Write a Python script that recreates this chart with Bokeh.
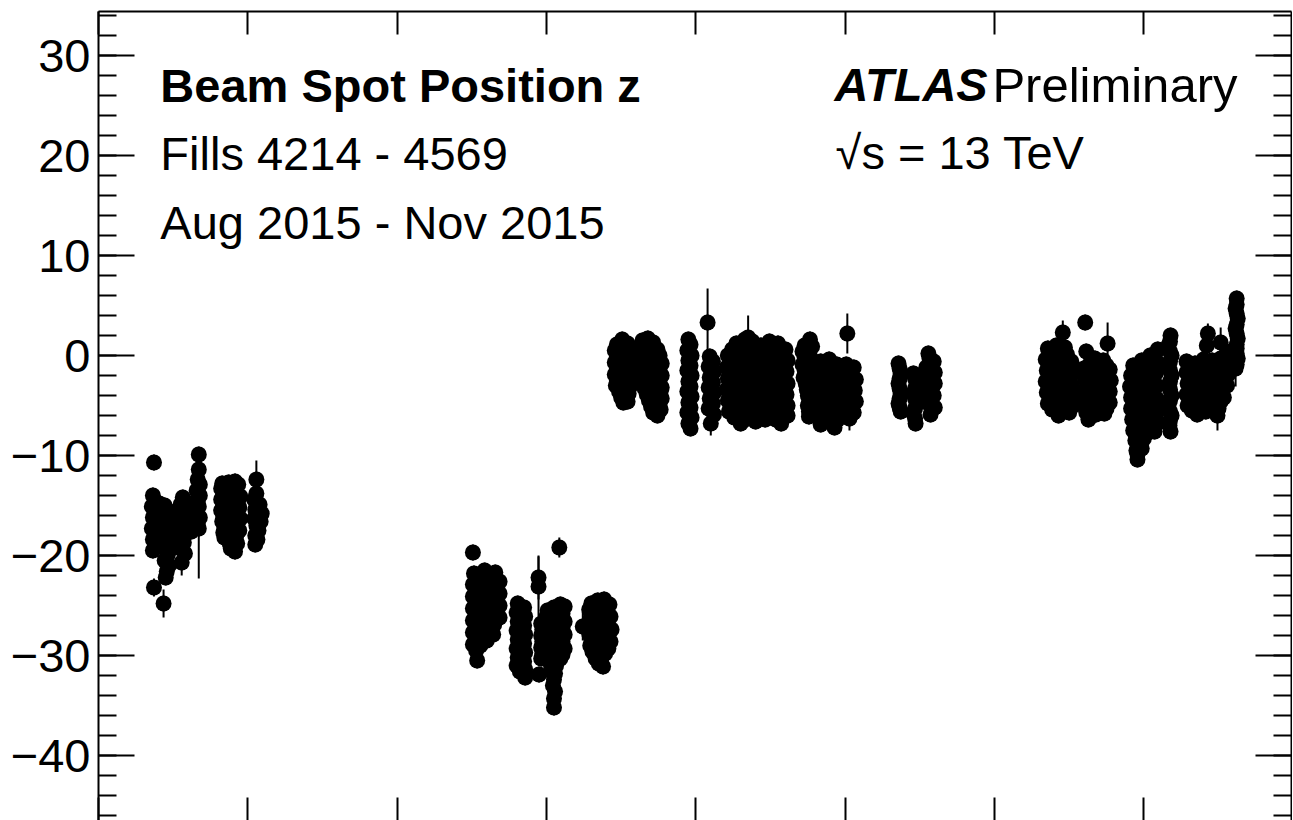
from bokeh.plotting import figure
from bokeh.models import (Range1d, LinearAxis, SingleIntervalTicker, Label, ColumnDataSource,
                          CustomLabelingPolicy)
from bokeh.embed import file_html
from bokeh.resources import INLINE

# x: days since 1 Aug 2015, z: beam spot z position [mm]
aug_day = [5.2,
           5.1, 5.3, 5.0, 5.4, 5.1, 5.3, 5.0, 5.4, 5.1, 5.3, 5.1,
           5.2,
           5.7, 5.8, 5.7, 5.8, 5.7,
           6.2, 6.5, 6.1, 6.6, 6.3, 6.5, 6.2, 6.6, 6.3, 6.5, 6.2, 6.6, 6.4, 6.3,
           6.1,
           7.1, 7.2, 7.1,
           7.9, 7.7, 8.1, 7.6, 8.0, 7.7, 8.1, 7.6, 8.0, 7.7, 8.1, 7.8,
           8.7, 8.8, 8.7,
           9.4, 9.4, 9.3, 9.5, 9.2, 9.5, 9.3, 9.4, 9.2, 9.5, 9.3, 9.4,
           11.6, 11.5, 11.7, 11.5, 11.7, 11.5, 11.7, 11.6, 11.8, 11.7, 11.8,
           12.2, 12.3, 12.2, 12.3, 12.2, 12.3, 12.2, 12.3, 12.4,
           12.8, 13.1, 12.9, 13.3, 12.8, 13.2, 12.9, 13.3, 12.8, 13.2, 12.9, 13.0, 12.8,
           14.8, 14.8, 14.6, 15.1, 14.7, 15.3, 14.6, 15.2, 14.8, 15.0, 14.7, 14.9, 14.7]
aug_z = [-10.7,
         -14.0, -14.6, -15.1, -15.6, -16.2, -16.7, -17.3, -17.8, -18.4, -18.9, -19.5,
         -23.2,
         -14.8, -15.9, -17.0, -18.1, -19.0,
         -15.0, -15.5, -16.1, -16.6, -17.2, -17.7, -18.3, -18.8, -19.3, -19.9, -20.5, -21.0, -21.6, -22.2,
         -24.8,
         -16.2, -17.8, -19.2,
         -14.2, -14.9, -15.4, -16.0, -16.5, -17.1, -17.6, -18.2, -18.7, -19.3, -19.8, -20.7,
         -14.8, -16.3, -17.6,
         -9.9, -11.4, -12.4, -12.9, -13.5, -14.0, -14.6, -15.1, -15.7, -16.2, -16.8, -17.3,
         -12.8, -13.3, -13.9, -14.4, -15.0, -15.5, -16.1, -16.6, -17.2, -17.7, -18.2,
         -12.7, -13.6, -14.5, -15.4, -16.3, -17.2, -18.1, -18.8, -19.3,
         -12.6, -12.9, -13.5, -14.1, -14.6, -15.2, -15.8, -16.3, -16.9, -17.5, -18.1, -18.8, -19.6,
         -12.4, -13.8, -14.4, -14.9, -15.4, -15.8, -16.3, -16.6, -17.0, -17.5, -18.0, -18.4, -18.9]

sep_day = [35.1,
           35.2, 36.2, 37.2,
           35.6, 36.7, 37.6,
           35.1, 36.1, 37.1,
           35.6, 36.6, 37.6,
           35.1, 36.1, 37.1,
           35.6, 36.6, 37.6,
           35.1, 36.1, 37.1,
           35.6, 36.6, 37.6,
           35.1, 36.1, 37.1,
           35.6, 36.6,
           35.1, 36.1, 37.0,
           35.5, 36.4,
           35.1, 35.8,
           35.4,
           35.5,
           39.3, 39.9, 39.2, 40.0, 39.3, 39.9, 39.2, 40.0, 39.3, 39.9, 39.2, 40.0, 39.3, 39.9,
           39.2, 40.0, 39.5, 40.0,
           41.25, 41.25, 41.3,
           41.5, 41.6, 41.5, 41.6, 41.5, 41.6, 41.5,
           42.1, 42.7, 43.3, 43.7,
           42.0, 42.5, 43.0, 43.5,
           42.2, 42.8, 43.3, 43.7,
           42.0, 42.5, 43.0, 43.5,
           42.2, 42.8, 43.3, 43.7,
           42.0, 42.5, 43.0, 43.5,
           42.2, 42.8, 43.3, 43.7,
           42.0, 42.5, 43.0, 43.5,
           42.2, 42.8, 43.3,
           42.4, 42.9,
           42.5, 42.8,
           42.7, 42.6, 42.8, 42.7, 42.7,
           43.2,
           45.4,
           46.2, 46.8, 47.4, 47.9,
           46.0, 46.5, 47.1, 47.7,
           46.2, 46.8, 47.4, 48.0,
           46.0, 46.5, 47.1, 47.7,
           46.2, 46.8, 47.4, 48.1,
           46.0, 46.5, 47.1, 47.7,
           46.2, 46.8, 47.4, 48.0,
           46.1, 46.6, 47.2, 47.8,
           46.3, 46.9, 47.5,
           46.6, 47.1,
           46.9, 47.3]
sep_z = [-19.7,
         -21.8, -21.5, -21.7,
         -22.4, -22.2, -22.6,
         -22.9, -23.0, -23.1,
         -23.5, -23.6, -23.8,
         -24.1, -24.2, -24.4,
         -24.7, -24.8, -25.0,
         -25.3, -25.4, -25.6,
         -25.9, -26.0, -26.2,
         -26.5, -26.6, -26.9,
         -27.1, -27.3,
         -27.7, -27.8, -27.9,
         -28.3, -28.5,
         -28.9, -29.0,
         -29.5,
         -30.5,
         -24.8, -25.2, -25.7, -26.1, -26.6, -27.0, -27.5, -27.9, -28.4, -28.8, -29.3, -29.7, -30.2, -30.6,
         -31.0, -31.4, -31.6, -32.2,
         -22.2, -23.1, -31.9,
         -26.8, -27.4, -28.0, -28.6, -29.2, -29.8, -30.3,
         -25.5, -25.2, -24.9, -25.1,
         -26.1, -25.9, -25.6, -25.8,
         -26.7, -26.5, -26.3, -26.6,
         -27.3, -27.1, -26.9, -27.2,
         -27.9, -27.7, -27.6, -27.9,
         -28.5, -28.3, -28.3, -28.6,
         -29.1, -28.9, -29.0, -29.3,
         -29.7, -29.6, -29.6, -29.9,
         -30.3, -30.2, -30.3,
         -30.9, -31.0,
         -31.6, -31.8,
         -32.4, -33.0, -33.6, -34.3, -35.2,
         -19.2,
         -27.1,
         -24.8, -24.5, -24.4, -24.9,
         -25.4, -25.2, -25.1, -25.5,
         -26.0, -25.8, -25.8, -26.1,
         -26.6, -26.4, -26.5, -26.8,
         -27.2, -27.0, -27.2, -27.4,
         -27.8, -27.7, -27.9, -28.0,
         -28.4, -28.3, -28.5, -28.6,
         -29.0, -28.9, -29.2, -29.3,
         -29.6, -29.6, -29.8,
         -30.3, -30.5,
         -30.8, -31.1]

oct_day = [48.6, 49.1, 49.6,
           48.4, 48.9, 49.4, 49.9,
           48.6, 49.1, 49.6,
           48.4, 48.9, 49.4, 49.9,
           48.6, 49.1, 49.6,
           48.4, 48.9, 49.4, 49.9,
           48.6, 49.1, 49.6,
           48.5, 48.9, 49.4, 49.9,
           48.8, 49.3, 49.7,
           49.0, 49.5,
           49.2, 49.6,
           51.0, 51.5, 52.0,
           50.9, 51.4, 51.9, 52.4,
           51.1, 51.6, 52.1, 52.6,
           50.9, 51.4, 51.9, 52.4, 52.8,
           51.1, 51.6, 52.1, 52.6,
           50.9, 51.4, 51.9, 52.4, 52.8,
           51.1, 51.6, 52.1, 52.6,
           51.0, 51.4, 51.9, 52.4, 52.8,
           51.2, 51.7, 52.2, 52.7,
           51.4, 51.9, 52.4, 52.8,
           51.6, 52.1, 52.6,
           51.8, 52.3, 52.7,
           52.0, 52.4,
           55.3, 55.5, 55.2, 55.6, 55.3, 55.5, 55.2, 55.6, 55.3, 55.5, 55.2, 55.6, 55.3, 55.5,
           55.2, 55.6, 55.3, 55.5,
           57.1,
           57.3, 57.6, 57.2, 57.7, 57.3, 57.6, 57.2, 57.7, 57.3, 57.6, 57.2, 57.7, 57.4,
           59.8, 60.6, 61.3, 62.1, 62.9, 63.7, 64.4,
           59.0, 59.8, 60.6, 61.4, 62.2, 63.0, 63.8, 64.6,
           58.9, 59.7, 60.5, 61.3, 62.1, 62.9, 63.7, 64.5,
           59.0, 59.8, 60.6, 61.4, 62.2, 63.0, 63.8, 64.6,
           58.9, 59.7, 60.5, 61.3, 62.1, 62.9, 63.7, 64.5,
           59.0, 59.8, 60.6, 61.4, 62.2, 63.0, 63.8, 64.6,
           59.1, 59.9, 60.7, 61.5, 62.3, 63.1, 63.9, 64.6,
           60.2, 61.6, 62.5, 64.0,
           60.9,
           59.4, 60.2, 61.0, 61.8, 62.6, 63.4, 64.2,
           59.4, 60.2, 61.0, 61.8, 62.6, 63.4, 64.2,
           59.4, 60.2, 61.0, 61.8, 62.6, 63.4, 64.2,
           59.4, 60.2, 61.0, 61.8, 62.6, 63.4, 64.2,
           59.4, 60.2, 61.0, 61.8, 62.6, 63.4, 64.2,
           59.4, 60.2, 61.0, 61.8, 62.6, 63.4, 64.2,
           59.6, 60.6, 61.2, 62.0, 63.5,
           66.2, 66.7, 66.0, 66.5, 66.9, 66.2, 66.7, 66.0, 66.5, 66.9, 66.2, 66.7, 66.1, 66.5,
           66.9, 66.3, 66.8, 66.4, 66.8, 66.5, 66.9, 66.6,
           66.5, 66.9, 66.6, 66.9, 66.6,
           67.7, 68.5, 69.2,
           68.1, 68.9,
           67.8, 68.6, 69.3,
           68.1, 68.9,
           67.7, 68.5, 69.3,
           68.1, 68.9,
           67.8, 68.6, 69.2,
           68.1, 68.9,
           67.9, 68.6, 69.3,
           68.2, 68.9,
           68.0, 68.7, 69.3,
           68.3, 68.9,
           67.7, 69.0,
           70.2,
           70.1, 70.8,
           70.5,
           70.3, 71.0,
           70.6,
           70.2, 70.9,
           70.6,
           70.3, 71.0,
           70.6,
           70.2, 70.8,
           70.5,
           70.4,
           75.0, 75.1, 75.2, 75.1, 75.0, 75.1, 75.2, 75.1, 75.0, 75.1, 75.2,
           76.4, 76.55, 76.7, 76.55, 76.4, 76.55, 76.7, 76.55, 76.4, 76.55, 76.6,
           77.8, 78.3, 77.6, 78.4, 77.7, 78.4, 77.6, 78.3, 77.7, 78.4, 78.0,
           77.9, 77.9, 77.9, 77.9, 77.9]
oct_z = [1.1, 1.6, 1.2,
         0.5, 0.6, 0.8, 0.4,
         -0.1, 0.0, -0.2,
         -0.7, -0.6, -0.8, -0.9,
         -1.3, -1.2, -1.4,
         -1.9, -1.8, -2.0, -2.1,
         -2.5, -2.4, -2.6,
         -3.0, -3.0, -3.2, -3.0,
         -3.6, -3.6, -3.8,
         -4.2, -4.4,
         -4.7, -4.6,
         1.5, 1.7, 1.3,
         0.9, 1.0, 0.8, 0.6,
         0.3, 0.4, 0.2, 0.0,
         -0.3, -0.2, -0.4, -0.6, -0.8,
         -0.9, -0.8, -1.0, -1.2,
         -1.5, -1.4, -1.6, -1.8, -2.0,
         -2.1, -2.0, -2.2, -2.4,
         -2.7, -2.6, -2.8, -3.0, -3.2,
         -3.3, -3.2, -3.4, -3.6,
         -3.9, -3.8, -4.0, -4.3,
         -4.5, -4.5, -4.8,
         -5.1, -5.2, -5.4,
         -5.7, -6.0,
         1.6, 1.1, 0.5, 0.0, -0.5, -1.0, -1.5, -2.0, -2.6, -3.1, -3.6, -4.1, -4.7, -5.2,
         -5.7, -6.2, -6.8, -7.3,
         3.3,
         -0.1, -0.6, -1.1, -1.6, -2.2, -2.7, -3.2, -3.7, -4.3, -4.8, -5.3, -5.9, -6.8,
         1.2, 1.6, 1.4, 1.0, 1.4, 1.2, 0.6,
         0.0, 0.2, 0.5, 0.4, 0.0, 0.3, 0.2, -0.5,
         -1.2, -1.0, -0.8, -1.1, -1.3, -0.9, -1.0, -1.6,
         -2.3, -2.1, -2.0, -2.4, -2.5, -2.2, -2.3, -2.8,
         -3.4, -3.2, -3.3, -3.6, -3.7, -3.4, -3.5, -3.9,
         -4.5, -4.6, -4.4, -4.8, -4.9, -4.6, -4.7, -5.0,
         -5.6, -5.8, -5.6, -5.9, -5.8, -5.5, -5.9, -6.0,
         -6.8, -6.6, -6.4, -6.8,
         1.8,
         0.6, 0.9, 1.0, 0.6, 0.7, 0.8, 0.3,
         -0.6, -0.4, -0.2, -0.5, -0.6, -0.3, -0.5,
         -1.7, -1.5, -1.4, -1.8, -1.9, -1.5, -1.7,
         -2.8, -2.6, -2.6, -3.0, -3.1, -2.8, -2.9,
         -3.9, -3.9, -3.8, -4.2, -4.3, -4.0, -4.1,
         -5.0, -5.2, -5.0, -5.4, -5.4, -5.1, -5.3,
         -6.2, -6.4, -6.3, -6.1, -6.4,
         1.0, 1.6, 0.4, 0.5, 0.9, -0.2, -0.1, -0.9, -0.8, -0.6, -1.5, -1.4, -2.2, -2.1,
         -1.9, -2.8, -2.7, -3.4, -3.3, -4.0, -4.1, -4.7,
         -5.0, -5.3, -5.6, -5.9, -6.1,
         -0.6, -0.4, -0.9,
         -1.1, -1.2,
         -1.7, -1.5, -2.0,
         -2.2, -2.3,
         -2.8, -2.6, -3.1,
         -3.3, -3.5,
         -3.9, -3.7, -4.2,
         -4.4, -4.6,
         -5.0, -4.9, -5.3,
         -5.5, -5.7,
         -6.1, -6.0, -6.4,
         -6.5, -6.7,
         -6.9, -7.2,
         2.2,
         -0.9, -1.2,
         -1.5,
         -2.0, -2.4,
         -2.7,
         -3.1, -3.5,
         -3.8,
         -4.2, -4.6,
         -4.9,
         -5.3, -5.7,
         -6.0,
         -6.3,
         -0.8, -1.3, -1.8, -2.3, -2.8, -3.3, -3.8, -4.3, -4.8, -5.2, -5.6,
         -1.8, -2.3, -2.8, -3.3, -3.8, -4.3, -4.8, -5.3, -5.8, -6.3, -6.8,
         0.2, -0.6, -1.2, -1.7, -2.3, -2.8, -3.4, -4.0, -4.6, -5.2, -5.9,
         -0.3, -1.4, -2.5, -3.7, -4.9]

nov_day = [90.4, 89.0, 89.8, 90.6, 88.8, 89.6, 90.4, 91.2, 88.9, 89.7, 90.5, 91.3, 88.8,
           89.6, 90.4, 91.2, 88.9, 89.7, 90.5, 91.3, 89.0, 89.8, 90.6, 91.4, 90.0, 91.0,
           89.2, 90.0, 90.8,
           89.2, 90.0, 90.8, 91.4,
           89.2, 90.0, 90.8,
           89.2, 90.0, 90.8,
           89.2, 90.0, 90.8,
           89.4, 90.2, 90.8,
           92.5, 92.6, 93.4, 94.2, 94.6, 92.4, 93.2, 94.0, 94.8, 92.5, 93.3, 94.1, 94.9,
           92.4, 93.2, 94.0, 94.8, 92.5, 93.3, 94.1, 94.8, 92.6, 93.5, 94.3, 92.8,
           92.9, 93.7, 94.5,
           92.9, 93.7, 94.5,
           92.9, 93.7, 94.5,
           92.9, 93.7, 94.5,
           92.9, 93.7, 94.5,
           97.0, 97.8, 98.6, 99.3, 96.8, 97.6, 98.4, 99.2, 96.7, 97.5, 98.3, 99.1,
           96.8, 97.6, 98.4, 99.2, 96.8, 97.6, 98.4, 99.2, 96.9, 97.7, 98.5, 99.3,
           97.0, 97.8, 98.6, 99.3, 97.2, 98.0, 99.0, 97.3, 97.8, 97.4,
           97.2, 98.0, 98.8,
           97.2, 98.0, 98.8,
           97.2, 98.0, 98.8,
           97.2, 98.0, 98.8,
           97.2, 98.0, 98.8,
           97.3, 98.1, 98.9,
           97.5, 98.4,
           97.6,
           97.4,
           100.5, 100.45, 100.3, 100.45, 100.6, 100.45, 100.3, 100.45, 100.6, 100.45,
           100.3, 100.45, 100.6, 100.45, 100.3, 100.45, 100.6, 100.45, 100.4, 100.5,
           102.0, 102.8, 103.6, 104.4, 105.2, 105.8, 104.0, 105.2, 103.9,
           102.0, 102.8, 103.6, 104.4, 105.2, 105.8,
           102.1, 102.9, 103.7, 104.5, 105.3, 105.9,
           102.0, 102.8, 103.6, 104.4, 105.2, 105.8,
           102.1, 102.9, 103.7, 104.5, 105.2,
           103.0, 103.8, 104.9, 105.0,
           102.4, 103.2, 104.0, 104.8, 105.5,
           102.4, 103.2, 104.0, 104.8, 105.5,
           102.4, 103.2, 104.0, 104.8, 105.5,
           102.4, 103.2, 104.0, 104.8, 105.5,
           102.5, 103.4, 104.2, 104.9,
           106.7, 106.7, 106.6, 106.7, 106.8, 106.7, 106.6, 106.7, 106.8, 106.7,
           106.7, 106.7, 106.8, 106.7, 106.6]
nov_z = [2.3, 0.7, 1.0, 0.8, -0.4, -0.2, -0.3, -0.6, -1.5, -1.4, -1.5, -1.8, -2.6,
         -2.6, -2.7, -2.9, -3.7, -3.8, -3.8, -4.0, -4.8, -5.0, -4.9, -5.0, -6.0, -5.7,
         0.2, 0.3, 0.1,
         -0.9, -0.9, -1.0, -1.2,
         -2.0, -2.1, -2.2,
         -3.1, -3.2, -3.4,
         -4.2, -4.3, -4.5,
         -5.4, -5.5, -5.4,
         3.3, 0.4, -0.3, -0.5, 1.2, -1.3, -1.4, -1.6, -1.4, -2.4, -2.5, -2.7, -2.5,
         -3.5, -3.6, -3.8, -3.6, -4.6, -4.7, -4.9, -4.7, -5.7, -5.9, -5.8, -6.4,
         -0.9, -0.9, -1.0,
         -1.9, -2.0, -2.1,
         -3.0, -3.1, -3.2,
         -4.1, -4.2, -4.3,
         -5.2, -5.3, -5.3,
         -1.0, -0.5, 0.0, 0.6, -2.0, -1.7, -1.2, -0.6, -3.1, -2.8, -2.4, -1.8,
         -4.2, -3.9, -3.6, -3.0, -5.3, -5.0, -4.8, -4.3, -6.4, -6.1, -5.9, -5.5,
         -7.5, -7.2, -7.0, -6.7, -8.5, -8.3, -7.6, -9.5, -9.3, -10.4,
         -1.5, -1.0, -0.4,
         -2.5, -2.1, -1.5,
         -3.6, -3.2, -2.7,
         -4.7, -4.3, -3.8,
         -5.8, -5.4, -5.0,
         -6.8, -6.6, -6.2,
         -7.9, -7.7,
         -8.9,
         -9.9,
         2.0, 1.4, 1.0, 0.4, 0.0, -0.6, -1.0, -1.5, -2.0, -2.6,
         -3.0, -3.4, -4.0, -4.5, -5.0, -5.6, -6.0, -6.5, -7.0, -7.6,
         -0.6, -0.8, -0.4, -0.5, -0.3, 0.4, 2.2, 1.3, 1.0,
         -1.7, -1.9, -1.5, -1.6, -1.4, -0.8,
         -2.8, -3.0, -2.6, -2.7, -2.5, -1.9,
         -3.9, -4.1, -3.7, -3.8, -3.6, -3.0,
         -5.0, -5.2, -4.8, -4.9, -4.6,
         -5.9, -5.6, -6.0, -5.3,
         -1.2, -1.3, -1.0, -1.1, -0.9,
         -2.3, -2.4, -2.1, -2.2, -2.0,
         -3.4, -3.5, -3.2, -3.3, -3.1,
         -4.5, -4.6, -4.3, -4.4, -4.2,
         -5.5, -5.6, -5.3, -5.4,
         5.7, 5.1, 4.7, 4.2, 3.7, 3.1, 2.7, 2.2, 1.7, 1.1,
         0.7, 0.2, -0.3, -0.9, -1.3]

# measurement uncertainty typical of most points [mm]
typical_err_mm = 0.8
# points whose uncertainty bars are visibly longer
long_err_day = [5.2, 6.1, 7.8, 9.4, 14.8, 41.25, 41.25, 43.2, 45.4, 57.1, 57.4, 60.9,
                70.2, 70.4, 90.4, 94.6, 104.0, 105.2, 104.9, 106.6]
long_err_z = [-23.2, -24.8, -20.7, -17.3, -12.4, -22.2, -23.1, -19.2, -27.1, 3.3, -6.8, 1.8,
              2.2, -6.3, 2.3, 1.2, 2.2, 1.3, -6.0, -1.3]
long_err_mm = [0.9, 1.4, 1.3, 5.0, 1.9, 2.2, 3.0, 1.0, 1.4, 3.4, 1.2, 2.2,
               2.0, 1.2, 1.2, 2.1, 1.0, 1.5, 1.5, 1.8]

y_tick_labels = {30: "30", 20: "20", 10: "10", 0: "0",
                 -10: "\u221210", -20: "\u221220", -30: "\u221230", -40: "\u221240"}

FONT = "Liberation Sans"

day, z = [], []
for d, zz in ((aug_day, aug_z), (sep_day, sep_z), (oct_day, oct_z), (nov_day, nov_z)):
    assert len(d) == len(zz), (len(d), len(zz))
    day += d
    z += zz
assert len(long_err_day) == len(long_err_z) == len(long_err_mm)

src = ColumnDataSource(dict(day=day, z=z,
                            lo=[a - typical_err_mm for a in z],
                            hi=[a + typical_err_mm for a in z]))
src_long = ColumnDataSource(dict(day=long_err_day,
                                 lo=[a - b for a, b in zip(long_err_z, long_err_mm)],
                                 hi=[a + b for a, b in zip(long_err_z, long_err_mm)]))

p = figure(width=1292, height=820, output_backend="svg", toolbar_location=None,
           x_range=Range1d(0, 111.84), y_range=Range1d(-46.5, 34.4),
           min_border_left=98, min_border_right=1, min_border_top=11, min_border_bottom=0)
p.outline_line_color = None
p.xgrid.visible = False
p.ygrid.visible = False
p.background_fill_color = "white"
p.border_fill_color = "white"

no_labels = CustomLabelingPolicy(code="return new Set()")


def style_y(ax, show_labels):
    ax.ticker = SingleIntervalTicker(interval=10, num_minor_ticks=5)
    ax.major_tick_in = 36
    ax.major_tick_out = 0
    ax.minor_tick_in = 18
    ax.minor_tick_out = 0
    ax.axis_line_width = 2
    ax.major_tick_line_width = 2
    ax.minor_tick_line_width = 2
    ax.axis_line_color = "black"
    if show_labels:
        ax.major_label_text_font = FONT
        ax.major_label_text_font_size = "47px"
        ax.major_label_text_color = "black"
        ax.major_label_standoff = 8
        ax.major_label_overrides = y_tick_labels
    else:
        ax.major_label_text_font_size = "0px"
        ax.major_label_standoff = 0
        ax.major_label_policy = no_labels


def style_x(ax, line):
    ax.ticker = SingleIntervalTicker(interval=14, num_minor_ticks=0)
    ax.major_tick_in = 23
    ax.major_tick_out = 0
    ax.minor_tick_line_color = None
    ax.major_tick_line_width = 2
    ax.axis_line_width = 2
    ax.axis_line_color = "black" if line else None
    ax.major_label_text_font_size = "0px"
    ax.major_label_standoff = 0
    ax.major_label_policy = no_labels


style_y(p.yaxis[0], True)
style_x(p.xaxis[0], False)
ry = LinearAxis()
style_y(ry, False)
p.add_layout(ry, "right")
tx = LinearAxis()
style_x(tx, True)
p.add_layout(tx, "above")

p.segment(x0="day", y0="lo", x1="day", y1="hi", source=src, line_color="black", line_width=2)
p.segment(x0="day", y0="lo", x1="day", y1="hi", source=src_long, line_color="black", line_width=2)
p.scatter(x="day", y="z", source=src, size=16, marker="circle",
          fill_color="black", line_color="black", line_width=0)

texts = [
    (5.8, 27.05, "Beam Spot Position z", "bold", "47px"),
    (5.8, 20.2, "Fills 4214 - 4569", "normal", "47px"),
    (5.8, 13.35, "Aug 2015 - Nov 2015", "normal", "47px"),
    (69.0, 27.1, "ATLAS", "bold italic", "47px"),
    (83.8, 27.1, "Preliminary", "normal", "49px"),
    (69.1, 20.3, "\u221as = 13 TeV", "normal", "47px"),
]
for x, y, t, st, fs in texts:
    p.add_layout(Label(x=x, y=y, text=t, text_font=FONT, text_font_style=st,
                       text_font_size=fs, text_color="black",
                       text_baseline="alphabetic", text_align="left"))

open("out.html", "w").write(file_html(p, INLINE))
